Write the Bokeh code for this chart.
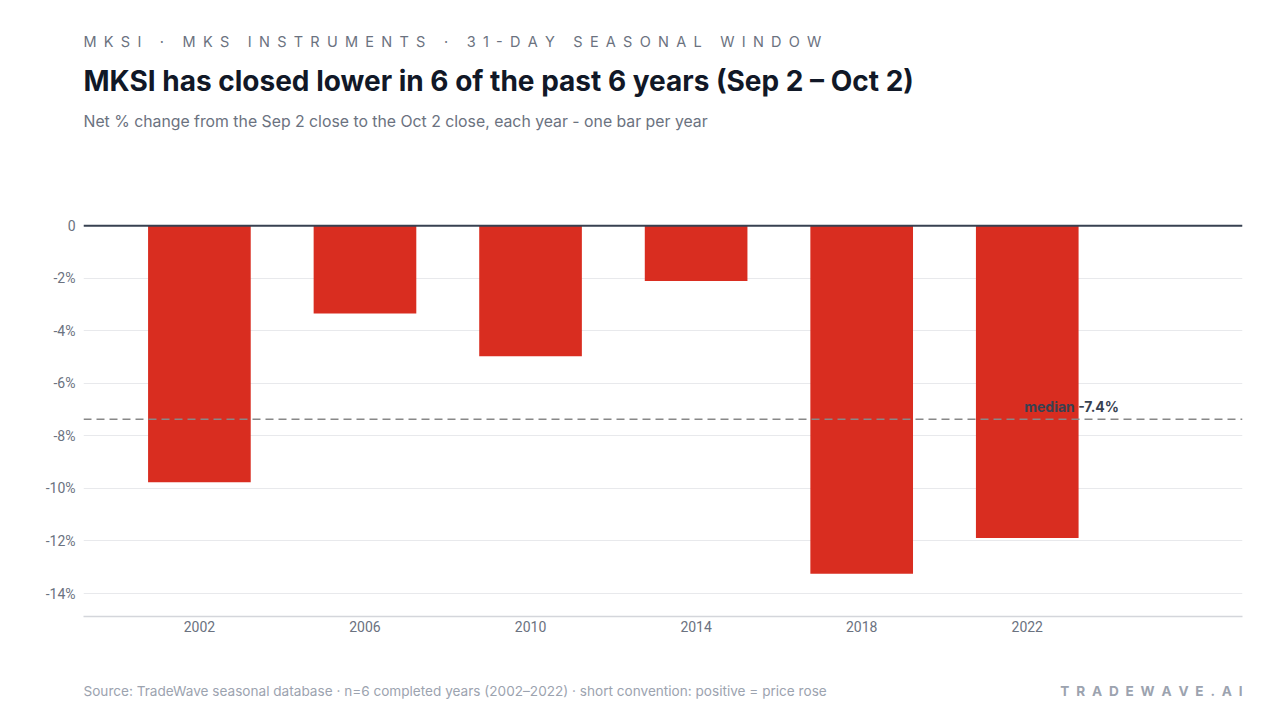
from bokeh.plotting import figure
from bokeh.layouts import column
from bokeh.models import Range1d, FixedTicker, Span, Label, ColumnDataSource
from bokeh.embed import file_html
from bokeh.resources import INLINE

# ---- data ----
years = [2002, 2006, 2010, 2014, 2018, 2022]
changes = [-9.76, -3.34, -4.97, -2.10, -13.25, -11.89]
y_ticks = [0, -2, -4, -6, -8, -10, -12, -14]
y_tick_labels = ["0", "-2%", "-4%", "-6%", "-8%", "-10%", "-12%", "-14%"]
x_tick_labels = [str(y) for y in years]

kicker = "MKSI · MKS INSTRUMENTS · 31-DAY SEASONAL WINDOW"
title = "MKSI has closed lower in 6 of the past 6 years (Sep 2 – Oct 2)"
subtitle = "Net % change from the Sep 2 close to the Oct 2 close, each year - one bar per year"
footer = "Source: TradeWave seasonal database · n=6 completed years (2002–2022) · short convention: positive = price rose"
brand = "TRADEWAVE.AI"

srt = sorted(changes)
n = len(srt)
median = (srt[n // 2 - 1] + srt[n // 2]) / 2 if n % 2 == 0 else srt[n // 2]

TICK_FONT = "Roboto"
FONT = "Inter"
W = 1264
HEAD_H, MAIN_H, FOOT_H = 190, 460, 54
X0, X1 = 1999.2, 2027.2
Y0, Y1 = -14.875, 1.0
LEFT, RIGHT = 83, 1242


def spaced(s):
    return "\u2002".join(s)


def blank(height):
    # frame is aligned by the column layout with the chart frame (LEFT..RIGHT)
    f = figure(width=W, height=height, output_backend="svg", toolbar_location=None,
               x_range=Range1d(LEFT, RIGHT), y_range=Range1d(height, 0),
               x_axis_location=None, y_axis_location=None,
               min_border=0, min_border_left=0, min_border_right=0,
               min_border_top=0, min_border_bottom=0,
               background_fill_color="white", border_fill_color="white")
    f.grid.visible = False
    f.outline_line_color = None
    return f


def lab(f, text, x, y, size, color, style="normal", align="left"):
    f.add_layout(Label(x=x, y=y, text=text, text_font=FONT, text_font_size=size,
                       text_color=color, text_font_style=style, text_align=align,
                       text_baseline="middle"))


# ---- header ----
head = blank(HEAD_H)
lab(head, spaced(kicker), LEFT, 41, "14.5px", "#6b7280")
lab(head, title, LEFT, 80, "28px", "#111827", style="bold")
lab(head, subtitle, LEFT, 121, "15.8px", "#6b7280")

# ---- main chart ----
p = figure(width=W, height=MAIN_H, output_backend="svg", toolbar_location=None,
           x_range=Range1d(X0, X1), y_range=Range1d(Y0, Y1),
           min_border_top=9, min_border_bottom=34, min_border_left=LEFT,
           min_border_right=W - RIGHT,
           background_fill_color="white", border_fill_color="white")
p.outline_line_color = None

src = ColumnDataSource(dict(x=years, top=[0] * len(years), bottom=changes))
p.vbar(x="x", top="top", bottom="bottom", width=2.48, source=src,
       fill_color="#d92d20", line_color=None)

p.xaxis.ticker = FixedTicker(ticks=years)
p.xaxis.major_label_overrides = {y: l for y, l in zip(years, x_tick_labels)}
p.xaxis.axis_line_color = "#d4d6db"
p.xaxis.axis_line_width = 1.5
p.xaxis.major_tick_line_color = None
p.xaxis.minor_tick_line_color = None
p.xaxis.major_label_text_font = TICK_FONT
p.xaxis.major_label_text_font_size = "14px"
p.xaxis.major_label_text_color = "#6b7280"
p.xaxis.major_label_standoff = -2

p.yaxis.ticker = FixedTicker(ticks=y_ticks)
p.yaxis.major_label_overrides = {t: l for t, l in zip(y_ticks, y_tick_labels)}
p.yaxis.axis_line_color = None
p.yaxis.major_tick_line_color = None
p.yaxis.minor_tick_line_color = None
p.yaxis.major_label_text_font = TICK_FONT
p.yaxis.major_label_text_font_size = "14px"
p.yaxis.major_label_text_color = "#6b7280"
p.yaxis.major_label_standoff = 2

p.xgrid.grid_line_color = None
p.ygrid.grid_line_color = "#e8e9ec"
p.ygrid.grid_line_width = 1

p.add_layout(Span(location=0, dimension="width", line_color="#374151", line_width=2))
p.add_layout(Span(location=median, dimension="width", line_color="#888888",
                  line_width=1.5, line_dash="8 5"))
p.add_layout(Label(x=years[-1], y=median, x_offset=-3, y_offset=13,
                   text=f"median {median:.1f}%", text_font=FONT, text_font_size="14px",
                   text_color="#374151", text_font_style="bold",
                   text_align="left", text_baseline="middle"))

# ---- footer ----
foot = blank(FOOT_H)
lab(foot, footer, LEFT, 40, "13.6px", "#9ca3af")
lab(foot, spaced(brand), RIGHT, 40, "13.6px", "#9ca3af", style="bold", align="right")

layout = column(head, p, foot, spacing=0)
open("out.html", "w").write(file_html(layout, INLINE))
